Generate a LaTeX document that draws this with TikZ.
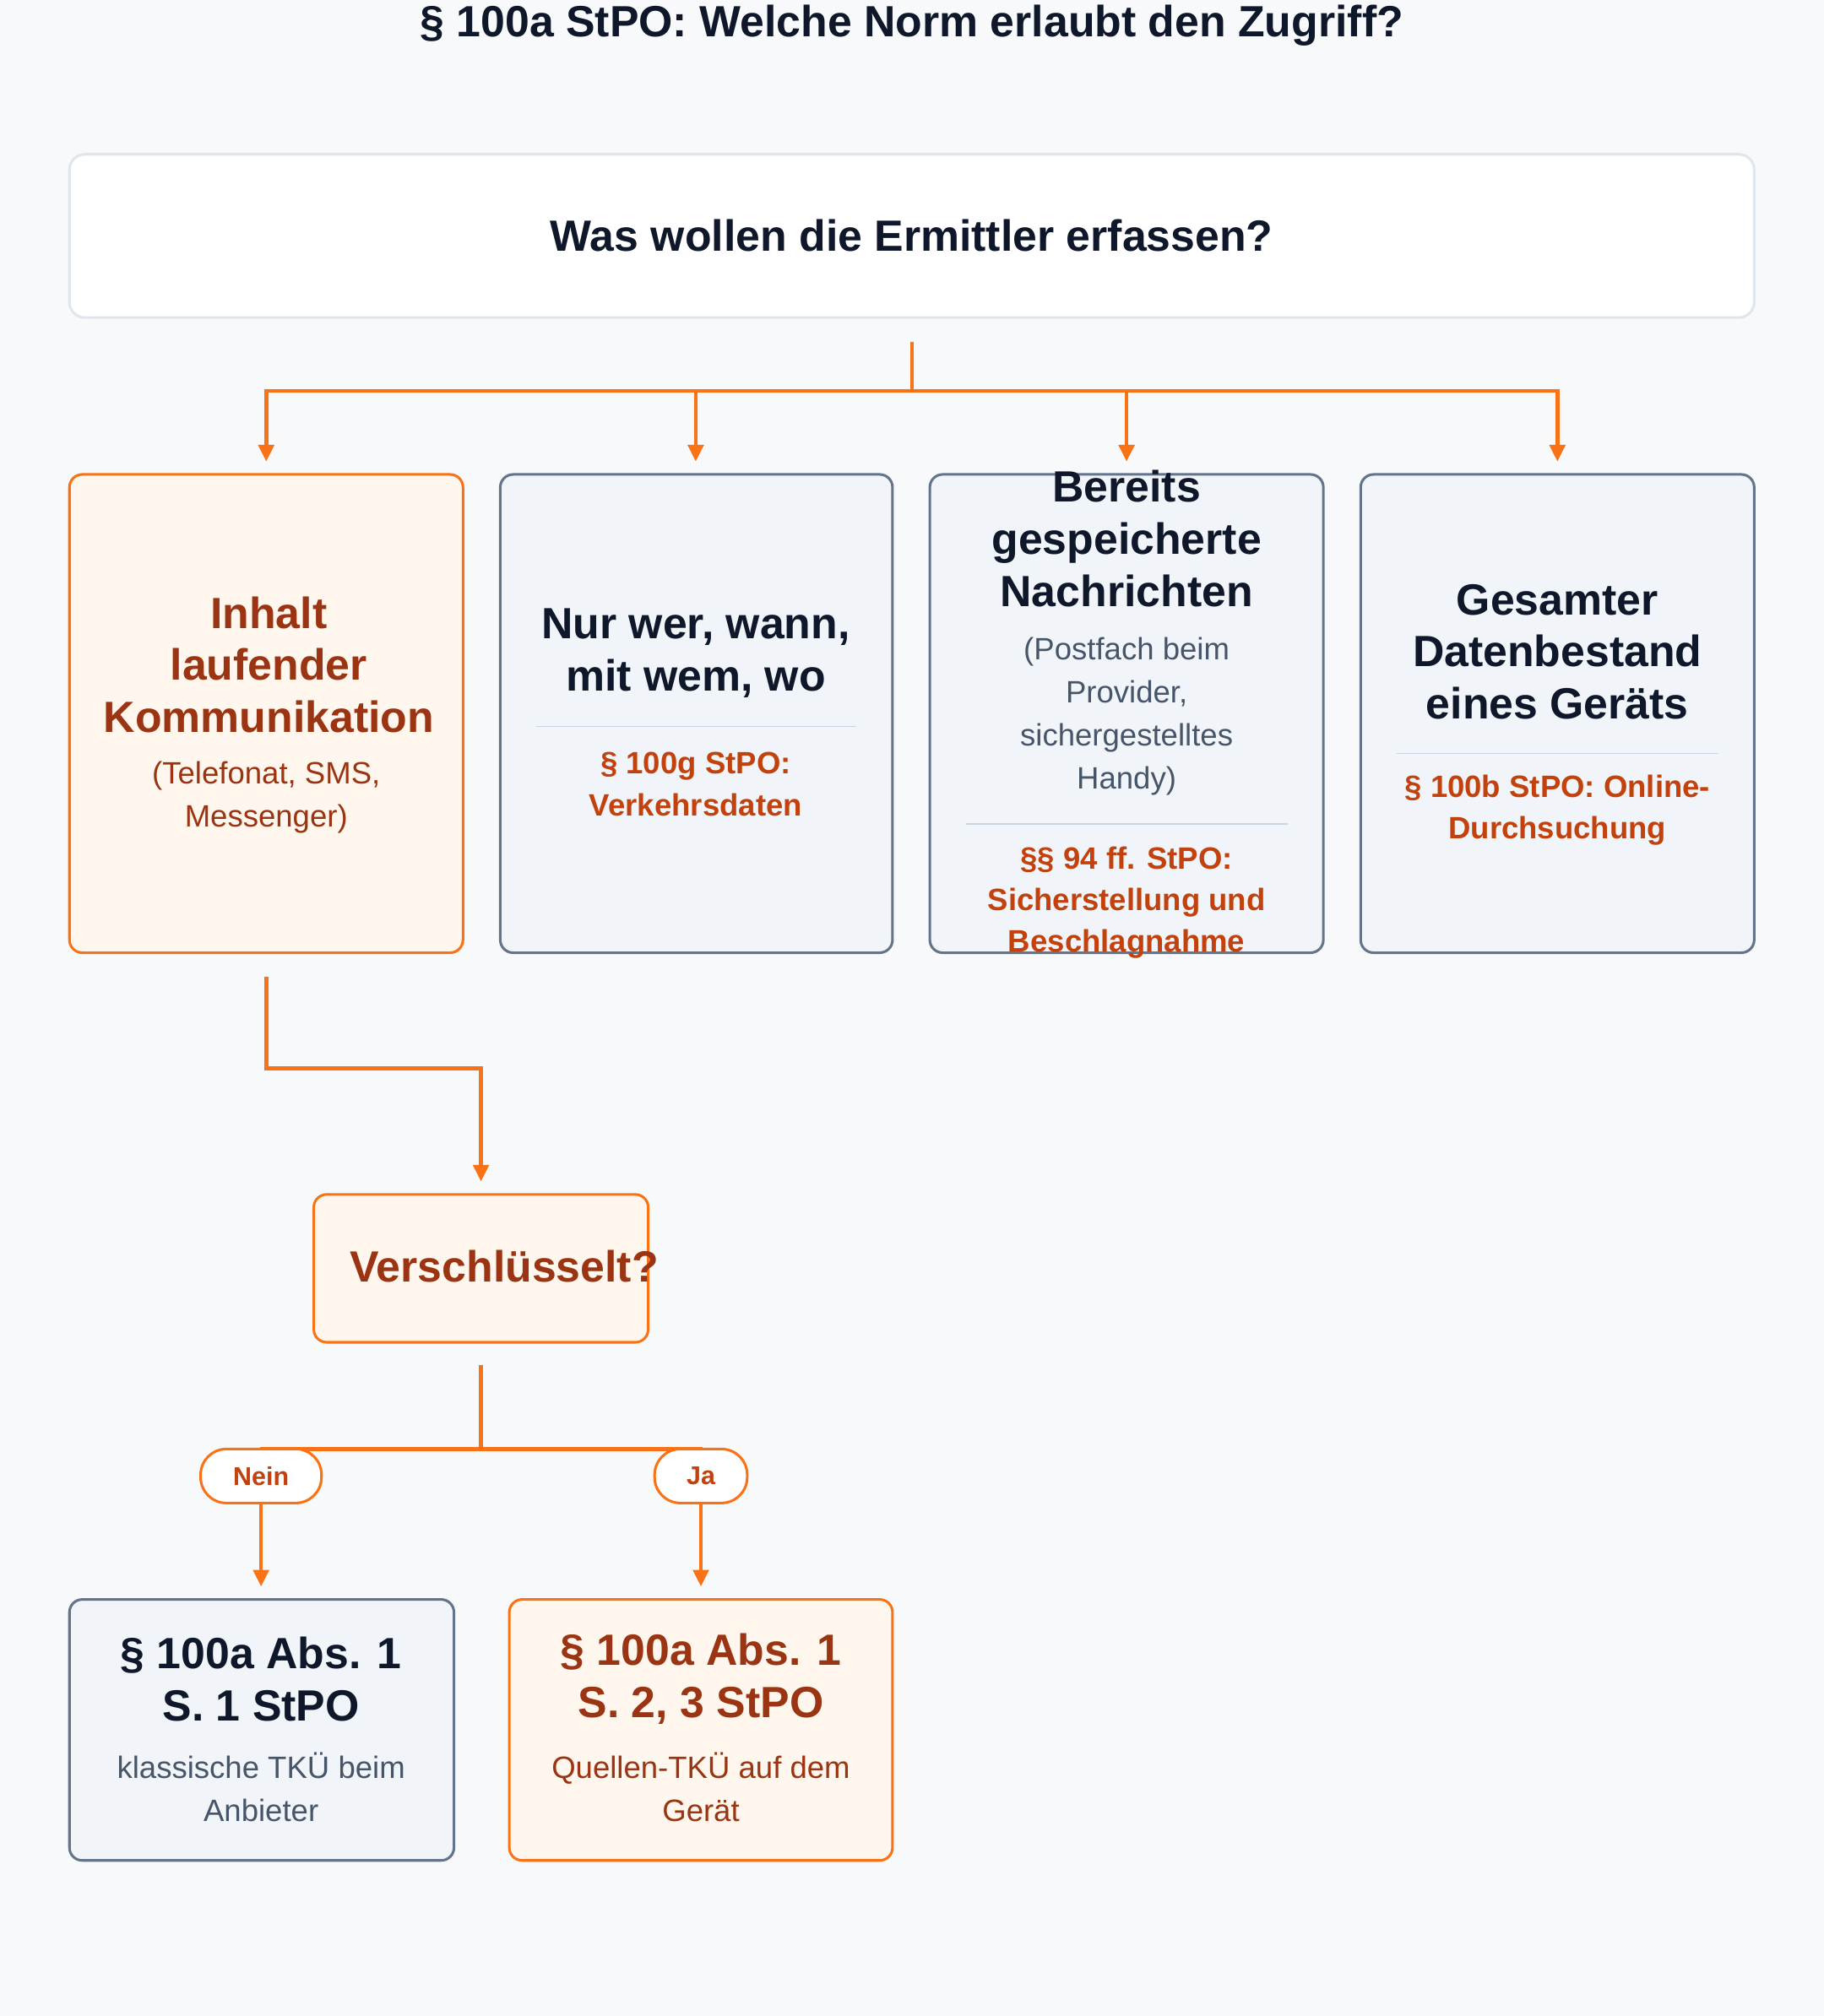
\documentclass[tikz,border=0pt]{standalone}
\usepackage{fontspec}
\setmainfont{Liberation Sans}
\usetikzlibrary{arrows.meta}
\definecolor{org}{HTML}{F97316}
\definecolor{dorg}{HTML}{9A3412}
\definecolor{rorg}{HTML}{C2410C}
\definecolor{ofill}{HTML}{FFF7ED}
\definecolor{gfill}{HTML}{F1F5F9}
\definecolor{gbord}{HTML}{64748B}
\definecolor{dark}{HTML}{0F172A}
\definecolor{gtxt}{HTML}{475569}
\definecolor{sep}{HTML}{CBD5E1}
\definecolor{bg}{HTML}{F8F9FB}
\begin{document}
\begin{tikzpicture}[x=1pt,y=-1pt,
  obox/.style={draw=org,fill=ofill,line width=2pt,rounded corners=10pt},
  gbox/.style={draw=gbord,fill=gfill,line width=2pt,rounded corners=10pt},
  head/.style={font=\bfseries\fontsize{34}{40.5}\selectfont,align=center,inner sep=0pt},
  sub/.style={font=\fontsize{24}{33.5}\selectfont,align=center,inner sep=0pt},
  law/.style={font=\bfseries\fontsize{24}{32.5}\selectfont,align=center,inner sep=0pt,text=rorg},
  conn/.style={draw=org,line width=3pt},
  arr/.style={conn,-{Triangle[length=13pt,width=12pt]},shorten >=10pt},
  pill/.style={draw=org,fill=white,line width=2pt,rounded corners=20pt,minimum height=42pt,font=\bfseries\fontsize{20}{24}\selectfont,text=rorg}]
\useasboundingbox (0,0) rectangle (1418,1568);
\fill[bg] (0,0) rectangle (1418,1568);
\node[head,text=dark] (title) at (709,20) {§ 100a StPO: Welche Norm erlaubt den Zugriff?};
\draw[draw=sep!60,fill=white,line width=2pt,rounded corners=12pt] (54,120) rectangle (1364,247);
\node[head,text=dark] (q) at (709,183) {Was wollen die Ermittler erfassen?};
% boxes
\draw[obox] (54,369) rectangle (360,741);
\draw[gbox] (389,369) rectangle (694,741);
\draw[gbox] (723,369) rectangle (1029,741);
\draw[gbox] (1058,369) rectangle (1364,741);
\coordinate (b1) at (207,369);\coordinate (b2) at (541,369);\coordinate (b3) at (876,369);\coordinate (b4) at (1211,369);
\node[head,text=dorg] (t1) at (209,517) {Inhalt\\laufender\\Kommunikation};
\node[sub,text=dorg] (s1) at (207,620) {(Telefonat, SMS,\\Messenger)};
\node[head,text=dark] (t2) at (541,508) {Nur wer, wann,\\mit wem, wo};
\draw[sep,line width=1pt] (417,565) -- (666,565);
\node[law] (l2) at (541,610) {§ 100g StPO:\\Verkehrsdaten};
\node[head,text=dark] (t3) at (876,419) {Bereits\\gespeicherte\\Nachrichten};
\node[sub,text=gtxt] (s3) at (876,557) {(Postfach beim\\Provider,\\sichergestelltes\\Handy)};
\draw[sep,line width=1pt] (751,641) -- (1001,641);
\node[law] (l3) at (876,702) {§§ 94 ff. StPO:\\Sicherstellung und\\Beschlagnahme};
\node[head,text=dark] (t4) at (1211,507) {Gesamter\\Datenbestand\\eines Geräts};
\draw[sep,line width=1pt] (1086,586) -- (1336,586);
\node[law] (l4) at (1211,630) {§ 100b StPO: Online-\\Durchsuchung};
% top connectors
\coordinate (qs) at (709,266);\coordinate (j) at (709,304);
\draw[conn] (qs) -- (j);
\draw[arr] (j) -| (b1);\draw[arr] (j) -| (b2);\draw[arr] (j) -| (b3);\draw[arr] (j) -| (b4);
% Verschluesselt
\draw[obox] (244,929) rectangle (504,1044);
\coordinate (vtop) at (374,929);
\node[head,text=dorg] (v) at (392,985) {Verschlüsselt?};
\coordinate (c1) at (207,760);\coordinate (c2) at (207,831);\coordinate (c3) at (374,831);
\draw[arr] (c1) -- (c2) -- (c3) -- (vtop);
% split
\coordinate (vs) at (374,1062);\coordinate (vj) at (374,1127);
\coordinate (hl) at (202,1127);\coordinate (hr) at (546,1127);
\draw[conn] (vs) -- (vj);\draw[conn] (hl) -- (hr);
\node[pill,minimum width=94pt] (nein) at (203,1148) {Nein};
\node[pill,minimum width=72pt] (ja) at (545,1148) {Ja};
\draw[gbox] (54,1244) rectangle (353,1447);
\draw[obox] (396,1244) rectangle (694,1447);
\coordinate (r1) at (203,1244);\coordinate (r2) at (545,1244);
\draw[arr] (nein) -- (r1);\draw[arr] (ja) -- (r2);
\node[head,text=dark] (t5) at (203,1306) {§ 100a Abs. 1\\S. 1 StPO};
\node[sub,text=gtxt] (s5) at (203,1390) {klassische TKÜ beim\\Anbieter};
\node[head,text=dorg] (t6) at (545,1306) {§ 100a Abs. 1\\S. 2, 3 StPO};
\node[sub,text=dorg] (s6) at (545,1390) {Quellen-TKÜ auf dem\\Gerät};
\end{tikzpicture}
\end{document}
